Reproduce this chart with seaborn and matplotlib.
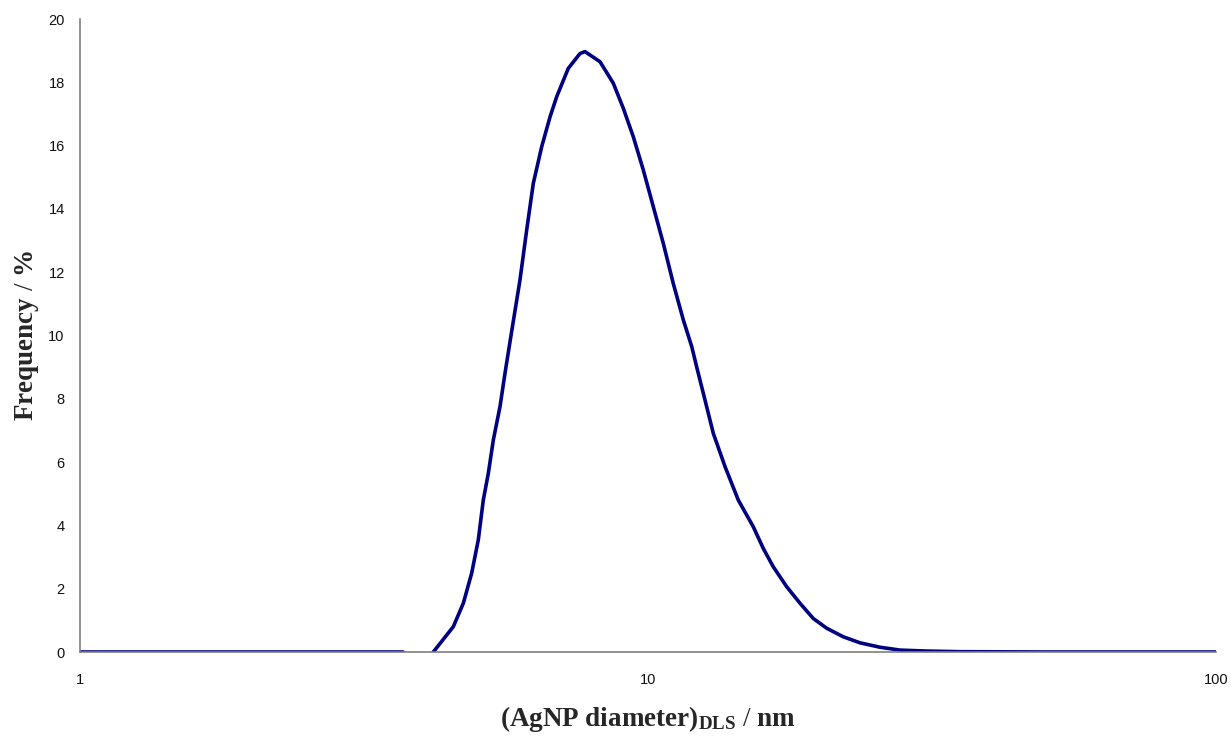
import numpy as np
import pandas as pd
import matplotlib
matplotlib.use("Agg")
import matplotlib.pyplot as plt
import seaborn as sns
from matplotlib.ticker import FixedLocator, NullLocator, FixedFormatter

# ---- data ----
low_sizes = [1.0, 3.70]
low_freq = [0.0, 0.0]

peak_sizes = [4.188, 4.542, 4.730, 4.893, 5.026, 5.129, 5.235, 5.342, 5.488, 5.601,
              5.715, 5.951, 6.115, 6.282, 6.500, 6.723, 6.908, 7.239, 7.591, 7.746,
              8.232, 8.688, 9.047, 9.421, 9.811, 10.217, 10.64, 11.08, 11.54, 11.94,
              12.18, 12.60, 13.03, 13.67, 14.42, 15.32, 15.96, 16.62, 17.55, 18.52,
              19.54, 20.64, 22.07, 23.62, 25.62, 27.78, 30.95, 35.43, 50.0, 100.0]
peak_freq = [0.0, 0.80, 1.54, 2.49, 3.54, 4.80, 5.65, 6.70, 7.75, 8.81,
             9.80, 11.75, 13.33, 14.81, 15.97, 16.91, 17.55, 18.44, 18.91, 18.97,
             18.65, 17.97, 17.18, 16.28, 15.23, 14.07, 12.91, 11.64, 10.49, 9.65,
             9.01, 7.96, 6.91, 5.85, 4.80, 3.96, 3.27, 2.69, 2.06, 1.54,
             1.06, 0.75, 0.48, 0.29, 0.15, 0.06, 0.03, 0.01, 0.0, 0.0]

x_ticks = [1, 10, 100]
x_ticklabels = ["1", "10", "100"]
y_ticks = [0, 2, 4, 6, 8, 10, 12, 14, 16, 18, 20]

sns.set_style("white")
plt.rcParams["mathtext.fontset"] = "custom"
plt.rcParams["mathtext.rm"] = "Liberation Serif"
plt.rcParams["mathtext.bf"] = "Liberation Serif:bold"
plt.rcParams["mathtext.it"] = "Liberation Serif:italic"

fig = plt.figure(figsize=(12.31, 7.36), dpi=100)
ax = fig.add_axes([80/1231, 1 - 652/736, (1216-80)/1231, (652-19)/736])

line_color = "#000080"
df_low = pd.DataFrame({"size": low_sizes, "freq": low_freq})
df_peak = pd.DataFrame({"size": peak_sizes, "freq": peak_freq})
sns.lineplot(data=df_low, x="size", y="freq", ax=ax, color=line_color, lw=2.6, sort=False)
sns.lineplot(data=df_peak, x="size", y="freq", ax=ax, color=line_color, lw=2.6, sort=False)

ax.set_xscale("log")
ax.set_xlim(1, 100)
ax.set_ylim(0, 20)
ax.xaxis.set_major_locator(FixedLocator(x_ticks))
ax.xaxis.set_major_formatter(FixedFormatter(x_ticklabels))
ax.xaxis.set_minor_locator(NullLocator())
ax.set_yticks(y_ticks)
ax.set_yticklabels([str(v) for v in y_ticks])

for s in ["top", "right"]:
    ax.spines[s].set_visible(False)
for s in ["left", "bottom"]:
    ax.spines[s].set_color("#7f7f7f")
    ax.spines[s].set_linewidth(1.2)

ax.tick_params(axis="both", which="major", direction="out", length=5, width=1,
               color="#404040", labelsize=10.5, labelcolor="#111111", pad=6)
ax.tick_params(axis="x", pad=10)
for lab in ax.get_xticklabels() + ax.get_yticklabels():
    lab.set_fontfamily("Liberation Sans")

ax.set_xlabel(r"$\mathbf{(AgNP\ diameter)_{DLS}}$ / $\mathbf{nm}$",
              fontsize=19.5, fontfamily="Liberation Serif", labelpad=12)
ax.set_ylabel(r"$\mathbf{Frequency}$ / $\mathbf{\%}$",
              fontsize=19.5, fontfamily="Liberation Serif", labelpad=5)

fig.savefig("out.png", dpi=100, facecolor="white")
